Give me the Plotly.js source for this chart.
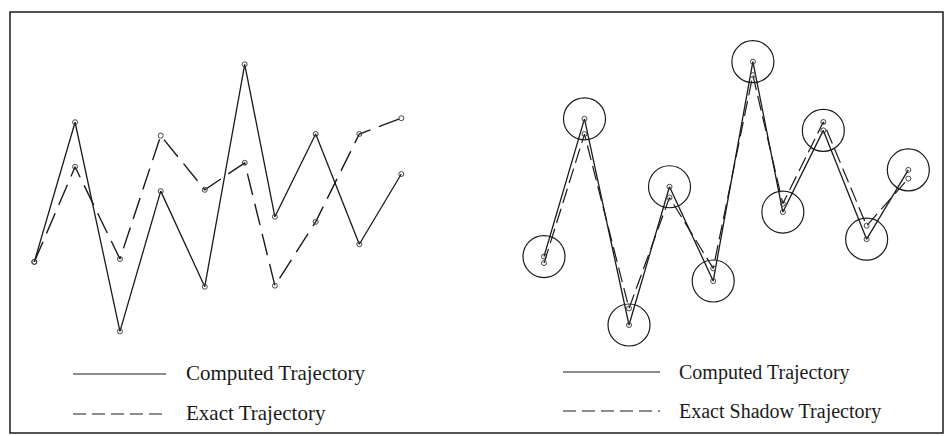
<!DOCTYPE html>
<html>
<head>
<meta charset="utf-8">
<script src="https://cdn.plot.ly/plotly-3.0.1.min.js"></script>
<style>html,body{margin:0;padding:0;background:#fff;}#chart{width:951px;height:436px;}</style>
</head>
<body>
<div id="chart"></div>
<script>
// Step positions (shared by both panels)
var steps = [0, 1.0, 2.1, 3.1, 4.18, 5.16, 5.9, 6.9, 7.97, 9.0];
// Left panel
var computed = [2.60, 7.83, 0.00, 5.25, 1.67, 10.0, 4.29, 7.39, 3.26, 5.89];
var exact    = [2.60, 6.16, 2.71, 7.33, 5.30, 6.31, 1.71, 4.10, 7.39, 7.98];
// Right panel
var shadow   = [2.35, 7.25, 0.63, 4.84, 2.15, 9.49, 4.61, 7.71, 3.77, 5.56];
// Legend labels
var leftLabels  = ["Computed Trajectory", "Exact Trajectory"];
var rightLabels = ["Computed Trajectory", "Exact Shadow Trajectory"];

var W = 951, H = 436;
var ink = "#1a1a1a";
var dot = {symbol: "circle-open", size: 5, color: "#444", line: {width: 1, color: "#444"}};

var traces = [
  {x: steps, y: computed, xaxis: "x", yaxis: "y", mode: "lines+markers", name: leftLabels[0],
   line: {color: ink, width: 1.3}, marker: dot, showlegend: false},
  {x: steps, y: exact, xaxis: "x", yaxis: "y", mode: "lines+markers", name: leftLabels[1],
   line: {color: ink, width: 1.4, dash: "22px,9px"}, marker: dot, showlegend: false},
  {x: steps, y: computed, xaxis: "x2", yaxis: "y2", mode: "lines+markers", name: rightLabels[0],
   line: {color: ink, width: 1.3}, marker: dot, showlegend: false},
  {x: steps, y: shadow, xaxis: "x2", yaxis: "y2", mode: "lines+markers", name: rightLabels[1],
   line: {color: ink, width: 1.2, dash: "15px,6px"}, marker: dot, showlegend: false},
  {x: steps, y: computed, xaxis: "x2", yaxis: "y2", mode: "markers", name: "Shadow neighbourhood",
   marker: {symbol: "circle-open", size: 42, color: ink, line: {width: 1.2, color: ink}}, showlegend: false}
];

function px(x) { return x / W; }
function py(y) { return 1 - y / H; }

var hidden = {visible: false, showgrid: false, zeroline: false, fixedrange: true};

var shapes = [
  {type: "rect", xref: "paper", yref: "paper", x0: px(10), x1: px(943), y0: py(433), y1: py(12),
   line: {color: ink, width: 1.5}, fillcolor: "rgba(0,0,0,0)"},
  {type: "line", xref: "paper", yref: "paper", x0: px(73), x1: px(166), y0: py(374), y1: py(374),
   line: {color: ink, width: 1.2}},
  {type: "line", xref: "paper", yref: "paper", x0: px(73), x1: px(166), y0: py(414), y1: py(414),
   line: {color: ink, width: 1.2, dash: "13px,6px"}},
  {type: "line", xref: "paper", yref: "paper", x0: px(563), x1: px(660), y0: py(372), y1: py(372),
   line: {color: ink, width: 1.2}},
  {type: "line", xref: "paper", yref: "paper", x0: px(563), x1: px(660), y0: py(411), y1: py(411),
   line: {color: ink, width: 1.2, dash: "13px,6px"}}
];

function label(text, x, y, size) {
  return {text: text, xref: "paper", yref: "paper", x: px(x), y: py(y), xanchor: "left", yanchor: "middle",
    showarrow: false, font: {family: "Liberation Serif, Times New Roman, serif", size: size, color: ink}};
}
var annotations = [
  label(leftLabels[0], 184, 373, 21),
  label(leftLabels[1], 184, 413, 21),
  label(rightLabels[0], 677, 372, 20),
  label(rightLabels[1], 677, 411, 20)
];

var layout = {
  width: W, height: H,
  margin: {l: 0, r: 0, t: 0, b: 0, pad: 0},
  paper_bgcolor: "#fff", plot_bgcolor: "#fff",
  showlegend: false,
  xaxis: Object.assign({domain: [0, 0.5], range: [-0.841, 10.819]}, hidden),
  yaxis: Object.assign({domain: [0, 1], range: [-3.921, 12.408]}, hidden),
  xaxis2: Object.assign({domain: [0.5, 1], range: [-1.692, 10.054], anchor: "y2"}, hidden),
  yaxis2: Object.assign({domain: [0, 1], range: [-4.216, 12.343], anchor: "x2"}, hidden),
  shapes: shapes,
  annotations: annotations
};

Plotly.newPlot("chart", traces, layout, {staticPlot: true, displayModeBar: false});
</script>
</body>
</html>
